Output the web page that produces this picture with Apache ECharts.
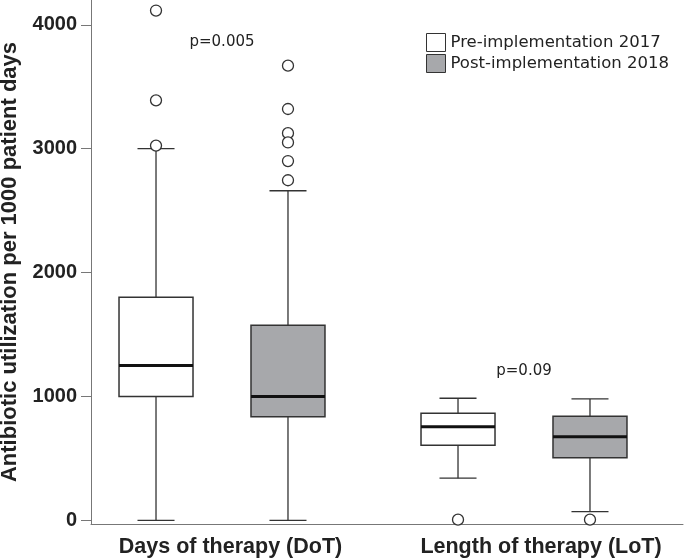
<!DOCTYPE html>
<html><head><meta charset="utf-8">
<script src="https://cdn.jsdelivr.net/npm/echarts@6/dist/echarts.min.js"></script>
<style>html,body{margin:0;padding:0;background:#fff}#c{width:685px;height:560px}</style>
</head><body><div id="c"></div>
<script>
const categories = ['Days of therapy (DoT)', 'Length of therapy (LoT)'];
const seriesNames = ['Pre-implementation 2017', 'Post-implementation 2018'];
// [lower whisker, Q1, median, Q3, upper whisker] per category
const preStats = [[0, 1000, 1250, 1800, 3000], [340, 605, 755, 865, 985]];
const postStats = [[0, 835, 1000, 1575, 2660], [70, 505, 675, 840, 980]];
const preOutliers = [[4115, 3390, 3025], [5]];
const postOutliers = [[3670, 3320, 3125, 3050, 2900, 2745], [5]];
const pValues = ['p=0.005', 'p=0.09'];
const pValueY = [3860, 1205];
const yTicks = [0, 1000, 2000, 3000, 4000];

const GROUP_OFF = 0.2185, BOX_HALF = 0.1225, CAP_HALF = 0.0613;
const STROKE = '#333';
const FILLS = ['#ffffff', '#a7a8ab'];

function makeRender(fill) {
  return function (params, api) {
    const x = api.value(0);
    const pMin = api.coord([x, api.value(1)]);
    const pQ1 = api.coord([x, api.value(2)]);
    const pMed = api.coord([x, api.value(3)]);
    const pQ3 = api.coord([x, api.value(4)]);
    const pMax = api.coord([x, api.value(5)]);
    const xl = api.coord([x - BOX_HALF, 0])[0], xr = api.coord([x + BOX_HALF, 0])[0];
    const cl = api.coord([x - CAP_HALF, 0])[0], cr = api.coord([x + CAP_HALF, 0])[0];
    const cx = pMin[0];
    const ls = () => ({ stroke: STROKE, lineWidth: 1.3 });
    return { type: 'group', children: [
      { type: 'line', shape: { x1: cx, y1: pMin[1], x2: cx, y2: pQ1[1] }, style: ls() },
      { type: 'line', shape: { x1: cx, y1: pQ3[1], x2: cx, y2: pMax[1] }, style: ls() },
      { type: 'line', shape: { x1: cl, y1: pMin[1], x2: cr, y2: pMin[1] }, style: ls() },
      { type: 'line', shape: { x1: cl, y1: pMax[1], x2: cr, y2: pMax[1] }, style: ls() },
      { type: 'rect', shape: { x: xl, y: pQ3[1], width: xr - xl, height: pQ1[1] - pQ3[1] },
        style: { fill: fill, stroke: STROKE, lineWidth: 1.5 } },
      { type: 'line', shape: { x1: xl, y1: pMed[1], x2: xr, y2: pMed[1] }, style: { stroke: '#111', lineWidth: 3 } }
    ]};
  };
}

const preData = preStats.map((s, i) => [i + 1 - GROUP_OFF].concat(s));
const postData = postStats.map((s, i) => [i + 1 + GROUP_OFF].concat(s));
const preOut = preOutliers.flatMap((arr, i) => arr.map(v => [i + 1 - GROUP_OFF, v]));
const postOut = postOutliers.flatMap((arr, i) => arr.map(v => [i + 1 + GROUP_OFF, v]));
const pData = pValues.map((t, i) => [i + 1, pValueY[i]]);

const chart = echarts.init(document.getElementById('c'), null, { renderer: 'canvas' });
const FONT = 'Liberation Sans, Arial, sans-serif';
const boldFont = (size) => ({ fontFamily: FONT, fontWeight: 'bold', fontSize: size, color: '#222' });
chart.setOption({
  animation: false,
  backgroundColor: '#fff',
  grid: { left: 91, right: 2, top: 0, bottom: 36, containLabel: false, outerBoundsMode: 'none' },
  legend: {
    orient: 'vertical', left: 426, top: 33, padding: 0, itemWidth: 19, itemHeight: 18, itemGap: 2,
    selectedMode: false,
    textStyle: { fontFamily: 'DejaVu Sans, sans-serif', fontSize: 16.5, color: '#222', lineHeight: 18 },
    data: seriesNames.map((n, i) => ({ name: n, icon: 'rect',
      itemStyle: { color: FILLS[i], borderColor: STROKE, borderWidth: 1 } }))
  },
  xAxis: {
    type: 'value', min: 1 - 131 / 302, max: 2 + 159 / 302,
    axisLine: { show: true, onZero: false, lineStyle: { color: '#777', width: 1 } },
    axisTick: { show: false },
    splitLine: { show: false },
    axisLabel: {
      customValues: [1, 2], margin: 12,
      formatter: v => { const i = Math.round(v) - 1; return categories[i] ? '{c' + i + '|' + categories[i] + '}' : ''; },
      rich: {
        c0: Object.assign({ padding: [0, 0, 0, 17] }, boldFont(21.5)),
        c1: Object.assign({ padding: [0, 0, 0, 34] }, boldFont(21.5))
      }
    }
  },
  yAxis: {
    type: 'value', min: -30, max: 4200,
    name: 'Antibiotic utilization per 1000 patient days',
    nameLocation: 'middle', nameGap: 70,
    nameTextStyle: boldFont(22),
    axisLine: { show: true, onZero: false, lineStyle: { color: '#777', width: 1 } },
    axisTick: { show: true, length: 10, customValues: yTicks, lineStyle: { color: '#777' } },
    splitLine: { show: false },
    axisLabel: Object.assign({ customValues: yTicks, margin: 14, formatter: v => String(v) }, boldFont(20))
  },
  series: [
    { name: seriesNames[0], type: 'custom', renderItem: makeRender(FILLS[0]), data: preData, silent: true,
      encode: { x: 0, y: [1, 2, 3, 4, 5] }, itemStyle: { color: FILLS[0], borderColor: STROKE } },
    { name: seriesNames[1], type: 'custom', renderItem: makeRender(FILLS[1]), data: postData, silent: true,
      encode: { x: 0, y: [1, 2, 3, 4, 5] }, itemStyle: { color: FILLS[1], borderColor: STROKE } },
    { name: 'outPre', type: 'scatter', data: preOut, symbol: 'circle', symbolSize: 11, silent: true, z: 5,
      itemStyle: { color: '#fff', borderColor: STROKE, borderWidth: 1.3, opacity: 1 } },
    { name: 'outPost', type: 'scatter', data: postOut, symbol: 'circle', symbolSize: 11, silent: true, z: 5,
      itemStyle: { color: '#fff', borderColor: STROKE, borderWidth: 1.3, opacity: 1 } },
    { name: 'pval', type: 'scatter', data: pData, symbolSize: 0, silent: true, itemStyle: { opacity: 1 },
      label: { show: true, position: 'inside', formatter: p => pValues[p.dataIndex],
        fontFamily: 'DejaVu Sans, sans-serif', fontSize: 15, color: '#222' } }
  ]
});
</script></body></html>
